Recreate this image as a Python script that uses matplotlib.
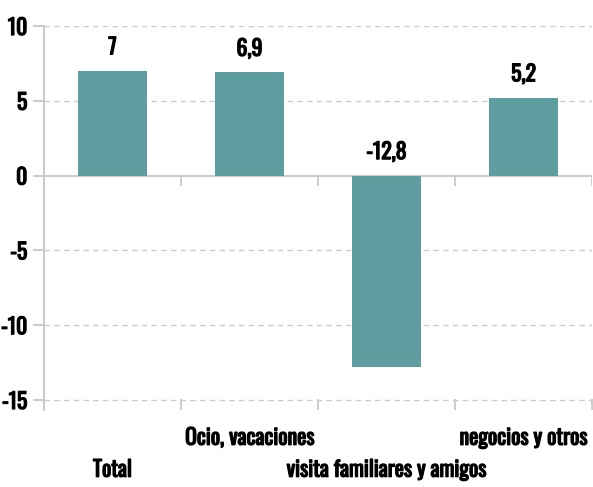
import matplotlib
matplotlib.use("Agg")
import matplotlib.pyplot as plt
import matplotlib.patheffects as pe
import numpy as np

categories = ["Total", "Ocio, vacaciones", "visita familiares y amigos", "negocios y otros"]
values = [7, 6.9, -12.8, 5.2]
value_labels = ["7", "6,9", "-12,8", "5,2"]
yticks = [10, 5, 0, -5, -10, -15]
ytick_labels = ["10", "5", "0", "-5", "-10", "-15"]

FONT = ["Oswald", "DejaVu Sans"]
FS = 15.7
BAR = "#5f9ea0"
BOLD = [pe.withStroke(linewidth=0.9, foreground="black")]

fig = plt.figure(figsize=(5.93, 4.87), dpi=100)
ax = fig.add_axes([44/593, 1-410/487, 548/593, 384/487])
x = np.arange(len(categories))
ax.bar(x, values, width=0.5, color=BAR, zorder=3)
ax.set_xlim(-0.5, len(categories)-0.5)
ax.set_ylim(-15.67, 10)

for t in yticks:
    if t == 0:
        ax.axhline(0, color="#c8c8c8", lw=1.3, zorder=2)
    else:
        ax.axhline(t, color="#cccccc", lw=1, ls=(0, (4, 3)), zorder=1)

bounds = np.arange(len(categories)+1) - 0.5
ax.vlines(bounds[1:], -0.7, 0, color="#c8c8c8", lw=1.3, zorder=2)

for s in ["top", "right", "bottom"]:
    ax.spines[s].set_visible(False)
ax.spines["left"].set_color("#cccccc")
ax.spines["left"].set_linewidth(1.5)

ax.set_yticks(yticks)
ax.set_yticklabels(ytick_labels, fontfamily=FONT, fontsize=FS)
for t in ax.get_yticklabels():
    t.set_path_effects(BOLD)
ax.tick_params(axis="y", length=8, width=1.5, color="#cccccc", pad=4)

ax.set_xticks(bounds[1:])
ax.set_xticklabels([])
ax.tick_params(axis="x", direction="in", length=8, width=1.3, color="#c8c8c8")

for i, (v, lab) in enumerate(zip(values, value_labels)):
    ax.annotate(lab, (i, max(v, 0)), xytext=(0, 9), textcoords="offset points",
                ha="center", va="bottom", fontfamily=FONT, fontsize=FS,
                path_effects=BOLD)

for i, c in enumerate(categories):
    off = -20 if i % 2 else -43
    ax.annotate(c, (i, 0), xycoords=("data", "axes fraction"), xytext=(0, off),
                textcoords="offset points", ha="center", va="center",
                fontfamily=FONT, fontsize=FS, path_effects=BOLD)

fig.savefig("out.png", dpi=100)
